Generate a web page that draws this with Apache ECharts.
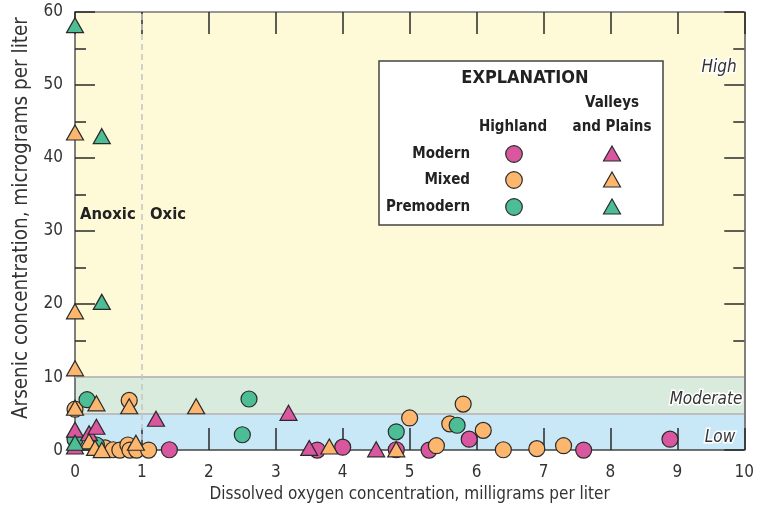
<!DOCTYPE html>
<html lang="en">
<head>
<meta charset="UTF-8">
<title>Arsenic vs dissolved oxygen</title>
<script src="https://cdn.jsdelivr.net/npm/echarts@6/dist/echarts.min.js"></script>
<style>
  html, body { margin: 0; padding: 0; background: #fff; }
  #main { width: 757px; height: 508px; }
</style>
</head>
<body>
<div id="main"></div>
<script>
// [dissolved oxygen mg/L, arsenic ug/L]
var highlandModern = [[1.41, 0.05], [3.62, 0], [4.0, 0.4], [4.8, 0.05], [5.29, 0], [5.89, 1.5], [7.6, 0], [8.89, 1.5]];
var highlandMixed = [[0, 5.6], [0.81, 6.8], [0.45, 0.3], [0.57, 0.05], [0.67, 0], [0.79, 0.7], [0.82, 0], [0.92, 0],
    [1.1, 0], [5.0, 4.4], [5.4, 0.6], [5.6, 3.6], [5.8, 6.3], [6.1, 2.7], [6.4, 0.05], [6.9, 0.2], [7.3, 0.6]];
var highlandPremodern = [[0.18, 6.9], [0, 1.5], [0.32, 0.7], [2.6, 7.0], [2.5, 2.1], [4.8, 2.5], [5.71, 3.4]];
var valleysModern = [[0, 2.8], [0, 0.5], [0.21, 2.3], [0.32, 3.2], [1.21, 4.3], [3.19, 5.1], [3.5, 0.3], [4.5, 0.1]];
var valleysMixed = [[0, 43.5], [0, 19], [0, 11.2], [0, 5.8], [0.32, 6.4], [0.81, 6.0], [1.81, 6.0], [0.21, 1.2],
    [0.3, 0.3], [0.4, 0], [0.91, 1.0], [3.8, 0.5], [4.8, 0.1]];
var valleysPremodern = [[0, 58.2], [0.4, 43], [0.4, 20.3], [0, 1.0]];

// concentration bands: [from, to, label]
var bands = [[0, 5, 'Low'], [5, 10, 'Moderate'], [10, 60, 'High']];
var bandColors = ['#c8e8f7', '#d8ebdd', '#fef9d7'];

var magenta = '#d9579f', orange = '#fdb66e', green = '#4dbd95';
var font = "'DejaVu Sans Condensed', 'Liberation Sans Narrow', sans-serif";

var myChart = echarts.init(document.getElementById('main'));

function pts(name, data, symbol, color) {
    return {
        name: name,
        type: 'scatter',
        data: data,
        symbol: symbol,
        symbolSize: symbol === 'circle' ? 16 : [17, 15],
        clip: false,
        itemStyle: { color: color, borderColor: '#2a2a2a', borderWidth: 1.2, opacity: 1 },
        z: 5
    };
}

var axisText = { fontFamily: font, fontSize: 17, color: '#333' };
var tickStyle = { color: '#2a2a2a', width: 1.5 };

function xAx(pos, labels) {
    var a = {
        type: 'value', min: 0, max: 10, interval: 1, position: pos, z: 3,
        axisLine: { show: true, onZero: false, lineStyle: { color: pos === 'bottom' ? '#444' : '#777', width: 1.5 } },
        axisTick: { inside: true, length: 22, lineStyle: tickStyle },
        axisLabel: labels ? Object.assign({ margin: 14 }, axisText) : { show: false },
        splitLine: { show: false }
    };
    if (labels) {
        a.name = 'Dissolved oxygen concentration, milligrams per liter';
        a.nameLocation = 'middle';
        a.nameGap = 35;
        a.nameTextStyle = { fontFamily: font, fontSize: 17, color: '#333' };
    }
    return a;
}
function yAx(pos, labels) {
    var a = {
        type: 'value', min: 0, max: 60, interval: 10, position: pos, z: 3,
        axisLine: { show: true, onZero: false, lineStyle: { color: '#555', width: 1.5 } },
        axisTick: { inside: true, length: 20, lineStyle: tickStyle },
        minorTick: { show: true, splitNumber: 2, length: 11, lineStyle: tickStyle },
        axisLabel: labels ? Object.assign({ margin: 12 }, axisText) : { show: false },
        splitLine: { show: false }
    };
    if (labels) {
        a.name = 'Arsenic concentration, micrograms per liter';
        a.nameLocation = 'middle';
        a.nameGap = 43;
        a.nameTextStyle = { fontFamily: font, fontSize: 20.5, color: '#333', padding: [0, 0, 0, 26] };
    }
    return a;
}

option = {
    animation: false,
    backgroundColor: '#fff',
    grid: { left: 75, right: 9, top: 12, bottom: 56 },
    xAxis: [xAx('bottom', true), xAx('top', false)],
    yAxis: [yAx('left', true), yAx('right', false)],
    series: [{
        name: 'bands',
        type: 'scatter',
        data: [],
        silent: true,
        z: 1,
        markArea: {
            silent: true,
            data: bands.map(function (b, i) {
                return [{ yAxis: b[0], itemStyle: { color: bandColors[i] } }, { yAxis: b[1] }];
            })
        },
        markLine: {
            silent: true,
            symbol: 'none',
            label: { show: false },
            data: [
                { yAxis: 5, lineStyle: { color: '#bdbdbd', width: 2, type: 'solid' } },
                { yAxis: 10, lineStyle: { color: '#bdbdbd', width: 2, type: 'solid' } },
                { xAxis: 1, lineStyle: { color: '#c4c4c4', width: 1.5, type: [6, 4] } }
            ]
        }
    },
        pts('Highland Modern', highlandModern, 'circle', magenta),
        pts('Highland Mixed', highlandMixed, 'circle', orange),
        pts('Highland Premodern', highlandPremodern, 'circle', green),
        pts('Valleys Modern', valleysModern, 'triangle', magenta),
        pts('Valleys Mixed', valleysMixed, 'triangle', orange),
        pts('Valleys Premodern', valleysPremodern, 'triangle', green)
    ]
};
myChart.setOption(option);

// annotations and explanation box
var bold = { fontFamily: font, fontWeight: 'bold', fill: '#222' };
var g = [];
g.push({ type: 'text', left: 80, top: 206, style: Object.assign({ text: 'Anoxic', fontSize: 16.5 }, bold), z: 10 });
g.push({ type: 'text', left: 150, top: 206, style: Object.assign({ text: 'Oxic', fontSize: 16.5 }, bold), z: 10 });

var bandLabelPos = { Low: [720, 438], Moderate: [706, 400], High: [719, 68] };
bands.forEach(function (b) {
    var p = bandLabelPos[b[2]];
    g.push({
        type: 'text', x: p[0], y: p[1], z: 10,
        style: {
            text: b[2], fontFamily: font, fontStyle: 'italic', fontSize: 17, fill: '#333',
            stroke: '#fff', lineWidth: 3, align: 'center', verticalAlign: 'middle'
        }
    });
});

g.push({ type: 'rect', shape: { x: 379, y: 61, width: 284, height: 164 }, z: 10,
    style: { fill: '#fff', stroke: '#444', lineWidth: 1.5 } });
function ltext(txt, x, y, size, align) {
    g.push({ type: 'text', x: x, y: y, z: 11,
        style: Object.assign({ text: txt, fontSize: size, align: align, verticalAlign: 'middle' }, bold) });
}
ltext('EXPLANATION', 525, 78, 18, 'center');
ltext('Valleys', 612, 103, 15, 'center');
ltext('and Plains', 612, 127, 15, 'center');
ltext('Highland', 513, 127, 15, 'center');
var rowNames = ['Modern', 'Mixed', 'Premodern'];
var rowColors = [magenta, orange, green];
var rowY = [154, 180, 207];
rowNames.forEach(function (n, i) {
    ltext(n, 470, rowY[i], 15, 'right');
    g.push({ type: 'circle', z: 11, shape: { cx: 514, cy: rowY[i], r: 8.3 },
        style: { fill: rowColors[i], stroke: '#2a2a2a', lineWidth: 1.2 } });
    g.push({ type: 'polygon', z: 11,
        shape: { points: [[612, rowY[i] - 8], [620.5, rowY[i] + 7], [603.5, rowY[i] + 7]] },
        style: { fill: rowColors[i], stroke: '#2a2a2a', lineWidth: 1.2 } });
});
myChart.setOption({ graphic: g });
</script>
</body>
</html>
